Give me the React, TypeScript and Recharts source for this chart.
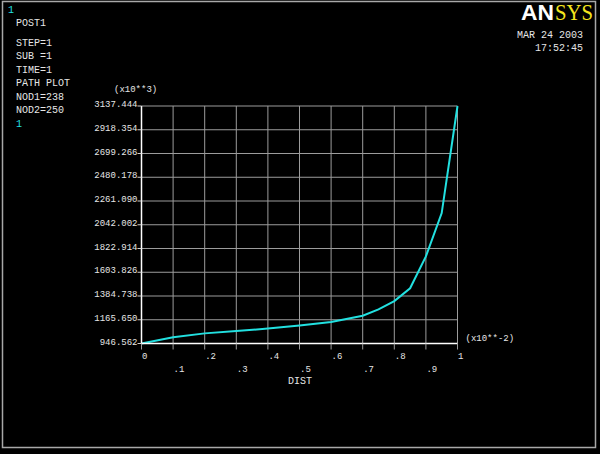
import React from 'react';
import { LineChart, Line, XAxis, YAxis, CartesianGrid } from 'recharts';

const distValues = [0, 0.1, 0.2, 0.3, 0.4, 0.5, 0.6, 0.7, 0.75, 0.8, 0.85, 0.9, 0.95, 1.0];
const pathValues = [946.562, 1004, 1040, 1062, 1084, 1112, 1145, 1203, 1262, 1338, 1456, 1750, 2150, 3137.444];

const yTicks = [946.562, 1165.65, 1384.738, 1603.826, 1822.914, 2042.002, 2261.09, 2480.178, 2699.266, 2918.354, 3137.444];
const yTickLabels = ['946.562', '1165.650', '1384.738', '1603.826', '1822.914', '2042.002', '2261.090', '2480.178', '2699.266', '2918.354', '3137.444'];
const xTicks = [0, 0.1, 0.2, 0.3, 0.4, 0.5, 0.6, 0.7, 0.8, 0.9, 1.0];
const xTickLabels = ['0', '.1', '.2', '.3', '.4', '.5', '.6', '.7', '.8', '.9', '1'];

const infoLines = ['POST1', 'STEP=1', 'SUB =1', 'TIME=1', 'PATH PLOT', 'NOD1=238', 'NOD2=250'];
const infoY = [26, 46, 59, 73, 86, 100, 113];
const dateLines = ['MAR 24 2003', '17:52:45'];

const data = distValues.map((d, i) => ({ dist: d, value: pathValues[i] }));

const FONT = '"Liberation Mono", "DejaVu Sans Mono", monospace';
const TXT = '#e6e6e6';
const CYAN = '#22e0e0';

const YTick = (props: any) => {
  const { x, y, index } = props;
  return (
    <text x={x} y={y + 1} textAnchor="end" fill={TXT} fontFamily={FONT} fontSize={9}>
      {yTickLabels[index]}
    </text>
  );
};

const XTick = (props: any) => {
  const { x, y, index } = props;
  const row2 = index % 2 === 1;
  return (
    <text x={x + 0.5} y={y + (row2 ? 22.5 : 9.5)} textAnchor="start" fill={TXT} fontFamily={FONT} fontSize={9}>
      {xTickLabels[index]}
    </text>
  );
};

export default function App() {
  return (
    <div style={{ position: 'absolute', left: 0, top: 0, width: 600, height: 454, background: '#000' }}>
      <LineChart
        width={600}
        height={454}
        data={data}
        margin={{ top: 106, right: 142.5, bottom: 80.5, left: 0 }}
      >
        <CartesianGrid stroke="#9c9c9c" strokeWidth={1} />
        <XAxis
          dataKey="dist"
          type="number"
          domain={[0, 1]}
          ticks={xTicks}
          interval={0}
          height={30}
          tickSize={6}
          tickMargin={0}
          axisLine={{ stroke: '#ffffff', strokeWidth: 1.5 }}
          tickLine={{ stroke: '#9c9c9c' }}
          tick={<XTick />}
        />
        <YAxis
          type="number"
          domain={[946.562, 3137.444]}
          ticks={yTicks}
          interval={0}
          width={141.5}
          tickSize={4}
          tickMargin={0}
          axisLine={{ stroke: '#ffffff', strokeWidth: 1.5 }}
          tickLine={{ stroke: '#d0d0d0' }}
          tick={<YTick />}
        />
        <Line
          type="linear"
          dataKey="value"
          stroke={CYAN}
          strokeWidth={2}
          dot={false}
          isAnimationActive={false}
        />
      </LineChart>
      <svg
        width={600}
        height={454}
        style={{ position: 'absolute', left: 0, top: 0, pointerEvents: 'none' }}
      >
        <rect x={2.5} y={1.5} width={593} height={446} fill="none" stroke="#a8a8a8" strokeWidth={1.5} />
        <text x={8} y={13} fill={CYAN} fontFamily={FONT} fontSize={10}>1</text>
        {infoLines.map((t, i) => (
          <text key={t} x={16} y={infoY[i]} fill={TXT} fontFamily={FONT} fontSize={10}>{t}</text>
        ))}
        <text x={16} y={127} fill={CYAN} fontFamily={FONT} fontSize={10}>1</text>
        <text x={114} y={92} fill={TXT} fontFamily={FONT} fontSize={9}>(x10**3)</text>
        <text x={465.5} y={341} fill={TXT} fontFamily={FONT} fontSize={9}>(x10**-2)</text>
        <text x={300} y={384} textAnchor="middle" fill={TXT} fontFamily={FONT} fontSize={10}>DIST</text>
        <text x={583} y={38} textAnchor="end" fill={TXT} fontFamily={FONT} fontSize={10}>{dateLines[0]}</text>
        <text x={583} y={51} textAnchor="end" fill={TXT} fontFamily={FONT} fontSize={10}>{dateLines[1]}</text>
        <text x={521} y={20} fill="#ffffff" fontFamily='"Liberation Sans", Arial, sans-serif' fontWeight="bold" fontSize={22} textLength={33} lengthAdjust="spacingAndGlyphs">AN</text>
        <text x={555} y={20} fill="#f5e61e" fontFamily='"Liberation Serif", serif' fontSize={23} textLength={38} lengthAdjust="spacingAndGlyphs">SYS</text>
      </svg>
    </div>
  );
}
